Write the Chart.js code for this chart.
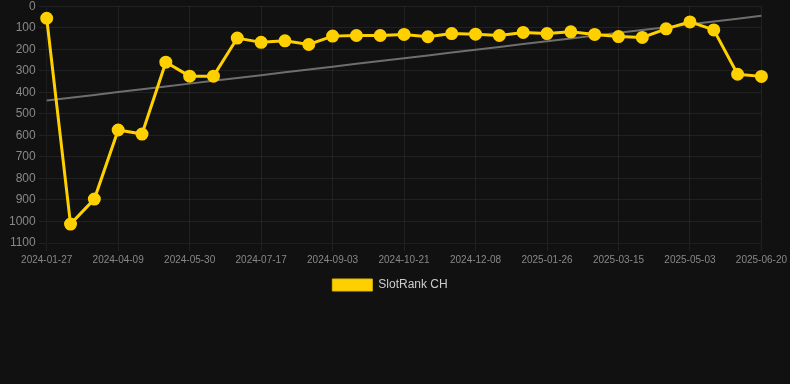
<!DOCTYPE html>
<html>
<head>
<meta charset="utf-8">
<script src="https://cdn.jsdelivr.net/npm/chart.js@4/dist/chart.umd.min.js"></script>
<style>
html,body{margin:0;padding:0;background:#111111;width:790px;height:384px;overflow:hidden;}
#wrap{position:relative;width:790px;height:305px;margin-top:-4px;}
</style>
</head>
<body>
<div id="wrap"><canvas id="c"></canvas></div>
<script>
const categories = [
  "2024-01-27","2024-02-20","2024-03-15","2024-04-09","2024-04-26","2024-05-13",
  "2024-05-30","2024-06-15","2024-07-01","2024-07-17","2024-08-02","2024-08-18",
  "2024-09-03","2024-09-19","2024-10-05","2024-10-21","2024-11-06","2024-11-22",
  "2024-12-08","2024-12-24","2025-01-09","2025-01-26","2025-02-11","2025-02-27",
  "2025-03-15","2025-03-31","2025-04-16","2025-05-03","2025-05-19","2025-06-04",
  "2025-06-20"
];
const rankValues = [
  56, 1012, 896, 575, 594, 260,
  325, 325, 148, 168, 161, 178,
  139, 136, 136, 131, 142, 127,
  130, 136, 122, 127, 119, 131,
  141, 145, 105, 73, 110, 316,
  326
];
const seriesLabel = "SlotRank CH";
const yTicks = [0,100,200,300,400,500,600,700,800,900,1000,1100];

// linear regression trend line derived from the data
const n = rankValues.length;
const meanX = (n - 1) / 2;
const meanY = rankValues.reduce((a, b) => a + b, 0) / n;
let sxy = 0, sxx = 0;
rankValues.forEach((v, i) => { sxy += (i - meanX) * (v - meanY); sxx += (i - meanX) * (i - meanX); });
const slope = sxy / sxx;
const trendValues = rankValues.map((_, i) => meanY + slope * (i - meanX));

const gridColor = 'rgba(255,255,255,0.07)';
const legendShift = {
  id: 'legendShift',
  afterLayout(chart) {
    if (chart.legend) { chart.legend.left -= 8; chart.legend.right -= 8; }
  }
};
new Chart(document.getElementById('c'), {
  type: 'line',
  data: {
    labels: categories,
    datasets: [
      {
        label: seriesLabel,
        data: rankValues,
        borderColor: '#FFD000',
        backgroundColor: '#FFD000',
        borderWidth: 3,
        pointRadius: 5,
        pointHoverRadius: 5,
        pointBackgroundColor: '#FFD000',
        pointBorderColor: '#FFD000',
        tension: 0,
        order: 1
      },
      {
        label: 'trend',
        data: trendValues,
        borderColor: '#6e6e6e',
        borderWidth: 2,
        pointRadius: 0,
        fill: false,
        order: 2
      }
    ]
  },
  plugins: [legendShift],
  options: {
    responsive: true,
    maintainAspectRatio: false,
    animation: false,
    layout: { padding: { left: 6, right: 0, top: 0, bottom: 0 } },
    plugins: {
      legend: {
        position: 'bottom',
        labels: {
          color: '#cccccc',
          font: { family: 'Liberation Sans, Arial, sans-serif', size: 12 },
          boxWidth: 40,
          boxHeight: 12,
          generateLabels: chart => {
            const ds = chart.data.datasets[0];
            return [{ text: ds.label, fillStyle: '#FFD000', strokeStyle: '#E0B800', lineWidth: 1, fontColor: '#cccccc', datasetIndex: 0 }];
          }
        }
      },
      tooltip: { enabled: false }
    },
    scales: {
      x: {
        grid: {
          color: ctx => (ctx.index % 3 === 0 ? gridColor : 'transparent'),
          tickColor: ctx => (ctx.index % 3 === 0 ? gridColor : 'transparent')
        },
        ticks: {
          color: '#888888',
          font: { family: 'Liberation Sans, Arial, sans-serif', size: 10 },
          autoSkip: false,
          maxRotation: 0,
          minRotation: 0,
          callback: function(val, idx) { return idx % 3 === 0 ? categories[idx] : ''; }
        }
      },
      y: {
        reverse: true,
        min: 0,
        max: 1100,
        afterBuildTicks: axis => { axis.ticks = yTicks.map(v => ({ value: v })); },
        grid: { color: gridColor, tickColor: gridColor },
        ticks: {
          color: '#888888',
          font: { family: 'Liberation Sans, Arial, sans-serif', size: 12 },
          callback: v => String(v)
        }
      }
    }
  }
});
</script>
</body>
</html>
